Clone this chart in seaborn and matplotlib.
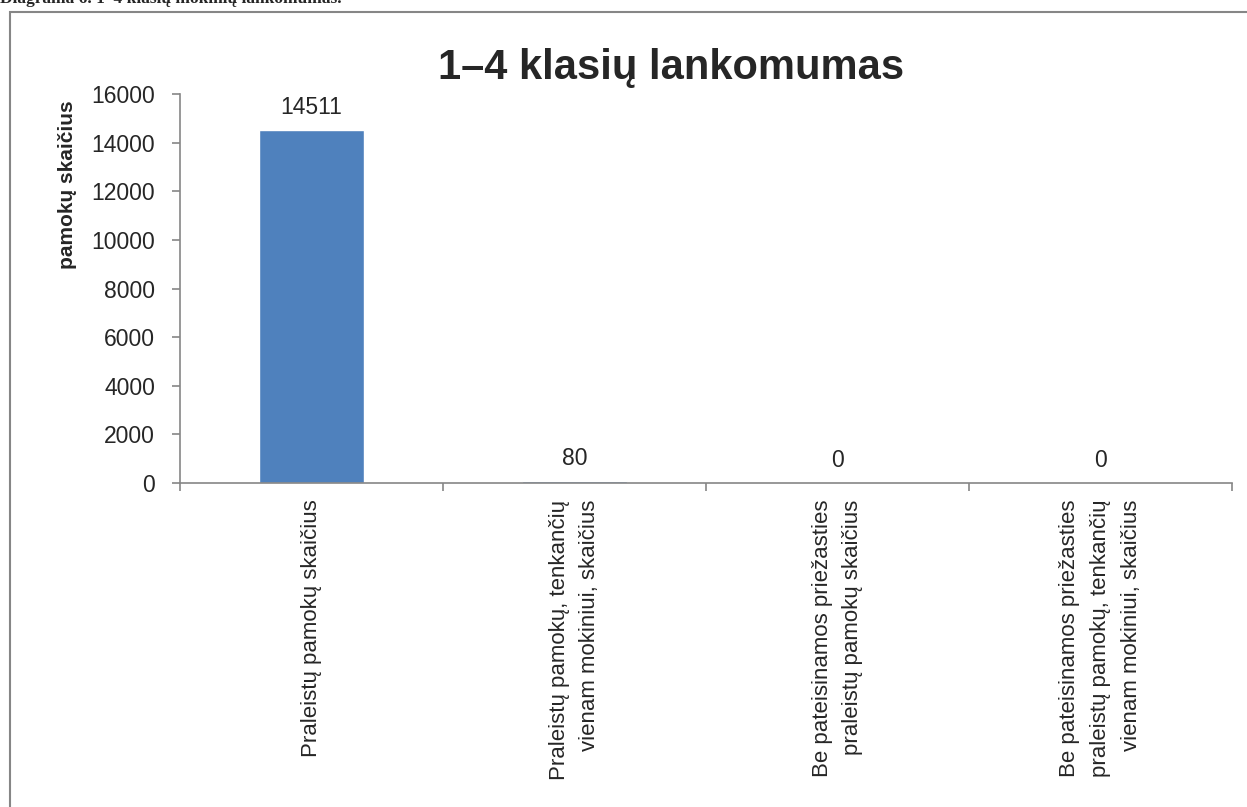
import pandas as pd
import matplotlib.pyplot as plt
import seaborn as sns
from matplotlib.patches import Rectangle


CATEGORIES = [
    "Praleistų pamokų skaičius",
    "Praleistų pamokų, tenkančių\nvienam mokiniui, skaičius",
    "Be pateisinamos priežasties\npraleistų pamokų skaičius",
    "Be pateisinamos priežasties\npraleistų pamokų, tenkančių\nvienam mokiniui, skaičius",
]
VALUES = [14511, 80, 0, 0]
Y_TICKS = [0, 2000, 4000, 6000, 8000, 10000, 12000, 14000, 16000]

BAR_COLOR = "#4F81BD"
AXIS_GRAY = "#868686"


def plot_attendance(output_path: str) -> None:
    sns.set_theme(style="white")
    plt.rcParams["font.family"] = ["Liberation Sans", "DejaVu Sans"]

    df = pd.DataFrame({"kategorija": CATEGORIES, "reiksme": VALUES})

    fig = plt.figure(figsize=(12.47, 8.07), dpi=100)
    ax = fig.add_axes([180 / 1247, 1 - 483 / 807, (1232 - 180) / 1247, (483 - 94) / 807])

    sns.barplot(data=df, x="kategorija", y="reiksme", color=BAR_COLOR,
                width=0.4, saturation=1, ax=ax)

    for container in ax.containers:
        ax.bar_label(container, labels=[str(v) for v in VALUES], padding=8, fontsize=16.5)

    ax.set_xlim(-0.5, 3.5)
    ax.set_ylim(0, 16000)
    ax.set_yticks(Y_TICKS)
    ax.set_yticklabels([str(t) for t in Y_TICKS], fontsize=16.5)

    ax.set_xticks(range(len(CATEGORIES)))
    ax.set_xticklabels(CATEGORIES, rotation=90, ha="center", va="top",
                       multialignment="right", fontsize=16, linespacing=1.6)
    ax.set_xticks([-0.5, 0.5, 1.5, 2.5, 3.5], minor=True)
    ax.tick_params(axis="x", which="major", length=0, pad=12)
    ax.tick_params(axis="x", which="minor", length=6, width=1.2, color=AXIS_GRAY,
                   direction="out", bottom=True)
    ax.tick_params(axis="y", length=6, width=1.2, color=AXIS_GRAY,
                   direction="out", left=True, pad=12)

    ax.set_xlabel("")
    ax.set_ylabel("pamokų skaičius", fontsize=15, fontweight="bold")
    ax.yaxis.set_label_coords(-0.098, 0.766)

    for side in ["top", "right"]:
        ax.spines[side].set_visible(False)
    for side in ["left", "bottom"]:
        ax.spines[side].set_color(AXIS_GRAY)
        ax.spines[side].set_linewidth(1.2)

    fig.text(671 / 1247, 1 - 68 / 807, "1–4 klasių lankomumas", ha="center",
             va="center", fontsize=30, fontweight="bold")

    # outer chart frame, cut by the page edges
    fig.patches.append(Rectangle((10 / 1247, -0.05), 1.1, 1 - 12 / 807 + 0.05,
                                 transform=fig.transFigure, fill=False,
                                 edgecolor=AXIS_GRAY, linewidth=1.5))
    # caption of the document, clipped at the top
    fig.text(0.0, 1 - 3 / 807, "Diagrama 6. 1–4 klasių mokinių lankomumas.",
             ha="left", va="baseline", fontsize=12.5, fontweight="bold",
             family=["Liberation Serif", "DejaVu Serif"])

    fig.savefig(output_path, dpi=100)


def main() -> None:
    plot_attendance("out.png")


if __name__ == "__main__":
    main()
